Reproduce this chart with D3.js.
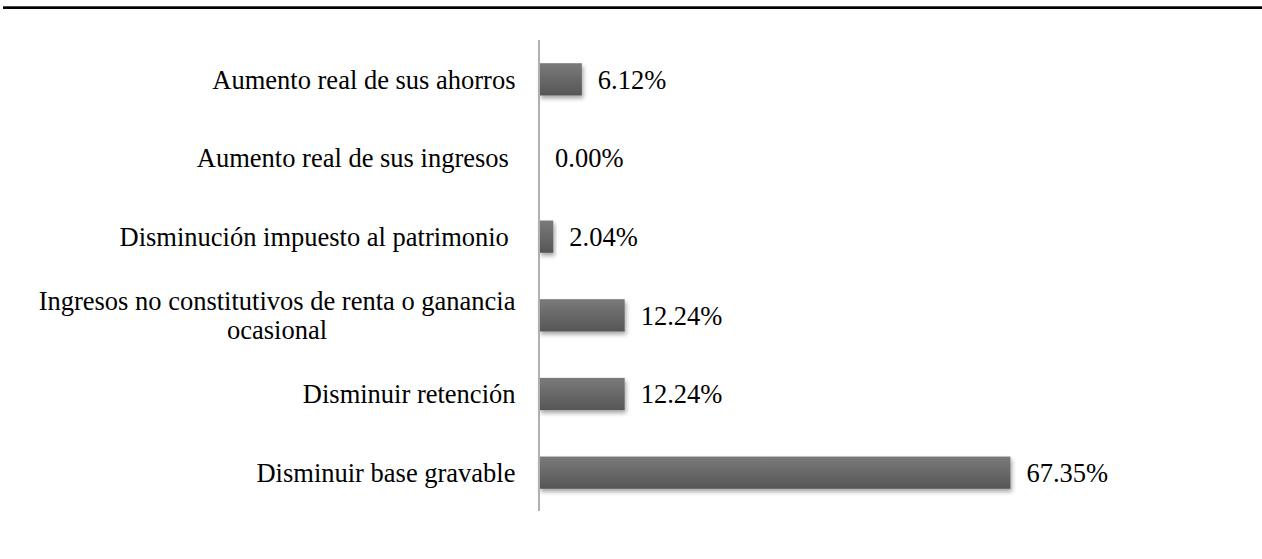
<!DOCTYPE html>
<html>
<head>
<meta charset="utf-8">
<script src="https://cdn.jsdelivr.net/npm/d3@7"></script>
<style>
html,body{margin:0;padding:0;background:#fff;}
svg{display:block;}
svg text{font-family:'Liberation Serif','Times New Roman',Times,'DejaVu Serif',serif;white-space:pre;}
</style>
</head>
<body>
<svg id="chart" width="1262" height="559"></svg>
<script>
// Data (top to bottom)
const categories = [
  "Aumento real de sus ahorros",
  "Aumento real de sus ingresos ",
  "Disminución impuesto al patrimonio ",
  "Ingresos no constitutivos de renta o ganancia|ocasional",
  "Disminuir retención",
  "Disminuir base gravable"
];
const values = [6.12, 0.00, 2.04, 12.24, 12.24, 67.35];
const valueLabels = ["6.12%", "0.00%", "2.04%", "12.24%", "12.24%", "67.35%"];

const FONT = "'Liberation Serif','Times New Roman',Times,'DejaVu Serif',serif";
const svg = d3.select("#chart");
const fontSize = 26.5;

// top rule
svg.append("rect").attr("x", 3).attr("y", 6.3).attr("width", 1259).attr("height", 2.7).attr("fill", "#000");

const y = d3.scaleBand().domain(categories).range([40, 512]).paddingInner(0.59).paddingOuter(0.295);
const x = d3.scaleLinear().domain([0, 80]).range([539, 1099]);

const defs = svg.append("defs");
const grad = defs.append("linearGradient").attr("id", "barGrad").attr("x1", 0).attr("y1", 0).attr("x2", 0).attr("y2", 1);
grad.append("stop").attr("offset", "0%").attr("stop-color", "#7a7a7a");
grad.append("stop").attr("offset", "100%").attr("stop-color", "#565656");
const filt = defs.append("filter").attr("id", "shadow").attr("x", "-10%").attr("y", "-30%").attr("width", "130%").attr("height", "180%");
filt.append("feDropShadow").attr("dx", 1.5).attr("dy", 3).attr("stdDeviation", 2.2).attr("flood-color", "#000").attr("flood-opacity", 0.35);

// bars
svg.append("g").selectAll("rect").data(categories).join("rect")
  .attr("x", x(0))
  .attr("y", d => y(d))
  .attr("height", y.bandwidth())
  .attr("width", (d, i) => Math.max(0, x(values[i]) - x(0)))
  .attr("fill", "url(#barGrad)")
  .attr("filter", (d, i) => values[i] > 0 ? "url(#shadow)" : null);

// axis line
svg.append("line").attr("x1", 539).attr("x2", 539).attr("y1", 40).attr("y2", 511)
  .attr("stroke", "#b0b0b0").attr("stroke-width", 2);

// value labels
svg.append("g").selectAll("text").data(categories).join("text")
  .attr("x", (d, i) => x(values[i]) + 16)
  .attr("y", d => y(d) + y.bandwidth() / 2)
  .attr("dy", "0.35em")
  .attr("font-family", FONT)
  .attr("font-size", fontSize)
  .attr("fill", "#000")
  .text((d, i) => valueLabels[i]);

// category labels
const labelRight = 515.5;
const lineH = 28.5;
categories.forEach(c => {
  const lines = c.split("|");
  const cy = y(c) + y.bandwidth() / 2;
  if (lines.length === 1) {
    svg.append("text").attr("x", labelRight).attr("y", cy).attr("dy", "0.35em")
      .attr("font-family", FONT)
      .attr("text-anchor", "end").attr("font-size", fontSize).attr("fill", "#000").text(lines[0]);
  } else {
    const g = svg.append("g");
    const ts = lines.map((l, k) => g.append("text")
      .attr("y", cy + (k - (lines.length - 1) / 2) * lineH).attr("dy", "0.35em")
      .attr("font-family", FONT)
      .attr("text-anchor", "middle").attr("font-size", fontSize).attr("fill", "#000").text(l));
    const maxW = d3.max(ts, t => t.node().getComputedTextLength());
    ts.forEach(t => t.attr("x", labelRight - maxW / 2));
  }
});
</script>
</body>
</html>
